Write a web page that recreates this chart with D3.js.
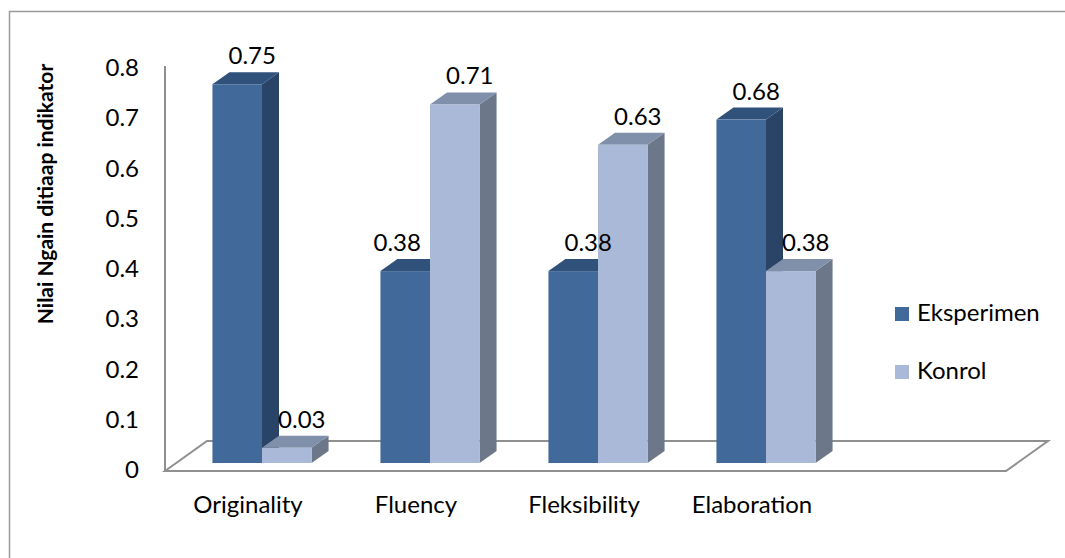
<!DOCTYPE html>
<html>
<head>
<meta charset="utf-8">
<script src="https://cdn.jsdelivr.net/npm/d3@7"></script>
<style>
  body { margin: 0; background: #fff; }
  svg text { font-family: Lato, "Open Sans", sans-serif; fill: #000; }
</style>
</head>
<body>
<div id="chart"></div>
<script>
// chart data
const categories = ['Originality', 'Fluency', 'Fleksibility', 'Elaboration'];
const seriesNames = ['Eksperimen', 'Konrol'];
const eksperimen = [0.75, 0.38, 0.38, 0.68];
const konrol = [0.03, 0.71, 0.63, 0.38];
const yTicks = [0, 0.1, 0.2, 0.3, 0.4, 0.5, 0.6, 0.7, 0.8];

// colours: front, top, side for each series
const colors = {
    Eksperimen: { front: '#416a9b', top: '#30517a', side: '#294466' },
    Konrol: { front: '#aab9d7', top: '#8190aa', side: '#6c7789' }
};

const width = 1065, height = 558;
const depth = { dx: 17, dy: 12 };      // bar depth projection
const floorDepth = { dx: 42, dy: 30 }; // floor depth projection

const svg = d3.select('#chart')
    .append('svg')
    .attr('width', width)
    .attr('height', height);

// outer chart border (right / bottom are cut off in the original)
svg.append('rect')
    .attr('x', 9.5).attr('y', 11.5)
    .attr('width', 1200).attr('height', 700)
    .attr('fill', 'none')
    .attr('stroke', '#9a9a9a')
    .attr('stroke-width', 1.5);

const x = d3.scaleBand()
    .domain(categories)
    .range([178, 850])
    .paddingInner(0.41)
    .paddingOuter(0.205);

const xs = d3.scaleBand()
    .domain(seriesNames)
    .range([0, x.bandwidth()]);

// scale for the axis labels and one for the bar faces (front plane)
const yAxisScale = d3.scaleLinear().domain([0, 0.8]).range([470, 68]);
const yBar = d3.scaleLinear().domain([0, 0.8]).range([463, 59]);

// floor
const floorLeft = 165, floorRight = 1006, floorFront = 471;
svg.append('path')
    .attr('d', `M${floorLeft},${floorFront} L${floorLeft + floorDepth.dx},${floorFront - floorDepth.dy} ` +
        `L${floorRight + floorDepth.dx},${floorFront - floorDepth.dy} L${floorRight},${floorFront} Z`)
    .attr('fill', 'none')
    .attr('stroke', '#8f8f8f')
    .attr('stroke-width', 2);

// vertical axis line
svg.append('line')
    .attr('x1', floorLeft).attr('x2', floorLeft)
    .attr('y1', 66).attr('y2', floorFront)
    .attr('stroke', '#8f8f8f')
    .attr('stroke-width', 2);

const yAxis = svg.append('g')
    .attr('transform', 'translate(142,0)')
    .call(d3.axisLeft(yAxisScale)
        .tickValues(yTicks)
        .tickFormat(d => String(d))
        .tickSize(0)
        .tickPadding(3));
yAxis.select('.domain').remove();
yAxis.selectAll('text')
    .style('font-family', 'Lato, sans-serif')
    .style('font-size', '24px')
    .attr('fill', '#000');

// axis title
svg.append('text')
    .attr('transform', 'translate(53,194) rotate(-90)')
    .attr('text-anchor', 'middle')
    .style('font-size', '21px')
    .style('font-weight', 'bold')
    .text('Nilai Ngain ditiaap indikator');

// bars, drawn left to right so later bars hide earlier side faces
const bars = [];
categories.forEach((c, i) => {
    bars.push({ cat: c, series: 'Eksperimen', value: eksperimen[i] });
    bars.push({ cat: c, series: 'Konrol', value: konrol[i] });
});

const bw = xs.bandwidth();
const barG = svg.selectAll('.bar3d')
    .data(bars)
    .enter()
    .append('g')
    .attr('class', 'bar3d');

barG.append('path')
    .attr('d', d => {
        const x0 = x(d.cat) + xs(d.series) + bw, y0 = yBar(d.value), y1 = yBar(0);
        return `M${x0},${y0} L${x0 + depth.dx},${y0 - depth.dy} L${x0 + depth.dx},${y1 - depth.dy} L${x0},${y1} Z`;
    })
    .attr('fill', d => colors[d.series].side);

barG.append('path')
    .attr('d', d => {
        const x0 = x(d.cat) + xs(d.series), y0 = yBar(d.value);
        return `M${x0},${y0} L${x0 + depth.dx},${y0 - depth.dy} L${x0 + bw + depth.dx},${y0 - depth.dy} L${x0 + bw},${y0} Z`;
    })
    .attr('fill', d => colors[d.series].top);

barG.append('rect')
    .attr('x', d => x(d.cat) + xs(d.series))
    .attr('y', d => yBar(d.value))
    .attr('width', bw)
    .attr('height', d => yBar(0) - yBar(d.value))
    .attr('fill', d => colors[d.series].front);

// value labels
const labelNudge = { 'Fluency-Eksperimen': -23 };
svg.selectAll('.value-label')
    .data(bars)
    .enter()
    .append('text')
    .attr('class', 'value-label')
    .attr('x', d => x(d.cat) + xs(d.series) + bw / 2 + 15 + (labelNudge[`${d.cat}-${d.series}`] || 0))
    .attr('y', d => yBar(d.value) - 20)
    .attr('text-anchor', 'middle')
    .style('font-size', '24px')
    .text(d => d.value.toFixed(2));

// category labels
svg.selectAll('.cat-label')
    .data(categories)
    .enter()
    .append('text')
    .attr('class', 'cat-label')
    .attr('x', d => x(d) + x.bandwidth() / 2 - 14)
    .attr('y', 513)
    .attr('text-anchor', 'middle')
    .style('font-size', '24px')
    .text(d => d);

// legend
const legend = svg.selectAll('.legend')
    .data(seriesNames)
    .enter()
    .append('g')
    .attr('class', 'legend')
    .attr('transform', (d, i) => `translate(895, ${307 + i * 58})`);

legend.append('rect')
    .attr('width', 14).attr('height', 14)
    .attr('fill', d => colors[d].front);

legend.append('text')
    .attr('x', 22).attr('y', 14)
    .style('font-size', '24px')
    .text(d => d);
</script>
</body>
</html>
